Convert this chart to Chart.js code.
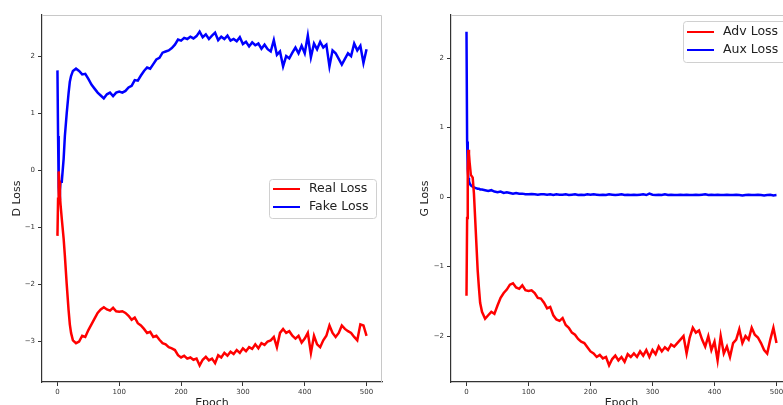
<!DOCTYPE html>
<html>
<head>
<meta charset="utf-8">
<script src="https://cdn.jsdelivr.net/npm/chart.js@4/dist/chart.umd.min.js"></script>
<style>
    html, body { margin: 0; padding: 0; background: #fff; }
    body { width: 783px; height: 405px; overflow: hidden; position: relative; }
    #d-wrap { position: absolute; left: 0; top: 0; width: 390px; height: 420px; }
    #g-wrap { position: absolute; left: 390px; top: 0; width: 410px; height: 420px; }
</style>
</head>
<body>
<div id="d-wrap"><canvas id="d-loss"></canvas></div>
<div id="g-wrap"><canvas id="g-loss"></canvas></div>
<script>
// epochs shared by all four curves (denser at the start where things move fast)
const epochs = [0, 1, 2, 3, 4, 5, 7, 10, 12, 15, 18, 20, 22, 25,
    30, 35, 40, 45, 50, 55, 60, 65, 70, 75, 80, 85, 90, 95, 100,
    105, 110, 115, 120, 125, 130, 135, 140, 145, 150, 155, 160, 165, 170, 175, 180, 185, 190, 195, 200,
    205, 210, 215, 220, 225, 230, 235, 240, 245, 250, 255, 260, 265, 270, 275, 280, 285, 290, 295, 300,
    305, 310, 315, 320, 325, 330, 335, 340, 345, 350, 355, 360, 365, 370, 375, 380, 385, 390, 395, 400,
    405, 410, 415, 420, 425, 430, 435, 440, 445, 450, 455, 460, 465, 470, 475, 480, 485, 490, 495, 500];

const realLoss = [-1.15, -0.5, -0.02, -0.2, -0.45, -0.6, -0.85, -1.2, -1.5, -2.0, -2.45, -2.7, -2.85, -2.98,
    -3.03, -3.0, -2.9, -2.92, -2.8, -2.7, -2.6, -2.5, -2.44, -2.4, -2.44, -2.46, -2.41, -2.47, -2.48,
    -2.47, -2.5, -2.55, -2.62, -2.58, -2.68, -2.72, -2.78, -2.85, -2.83, -2.92, -2.9, -2.97, -3.03, -3.05, -3.1, -3.12, -3.15, -3.24, -3.28,
    -3.25, -3.3, -3.28, -3.32, -3.3, -3.42, -3.32, -3.27, -3.33, -3.3, -3.38, -3.24, -3.28, -3.2, -3.25, -3.18, -3.22, -3.15, -3.2, -3.12,
    -3.17, -3.1, -3.13, -3.05, -3.12, -3.03, -3.06, -3.0, -2.98, -2.92, -3.1, -2.85, -2.78, -2.85, -2.82, -2.9, -2.95, -2.9, -3.02, -2.95,
    -2.85, -3.2, -2.9, -3.05, -3.1, -2.98, -2.9, -2.72, -2.85, -2.92, -2.85, -2.72, -2.78, -2.82, -2.85, -2.92, -2.98, -2.7, -2.72, -2.9];

const fakeLoss = [1.75, 0.6, -0.3, -0.5, -0.35, -0.2, -0.2, 0.2, 0.6, 1.0, 1.35, 1.55, 1.65, 1.74,
    1.78, 1.74, 1.68, 1.69, 1.6, 1.5, 1.43, 1.36, 1.31, 1.26, 1.33, 1.36, 1.3, 1.36, 1.38,
    1.36, 1.39, 1.45, 1.48, 1.58, 1.57, 1.66, 1.74, 1.8, 1.78, 1.86, 1.94, 1.97, 2.06, 2.08, 2.1, 2.14, 2.2, 2.29, 2.27,
    2.32, 2.3, 2.34, 2.31, 2.35, 2.43, 2.33, 2.38, 2.3, 2.36, 2.41, 2.28, 2.34, 2.3, 2.36, 2.27, 2.3, 2.26, 2.33, 2.21,
    2.25, 2.17, 2.24, 2.19, 2.22, 2.13, 2.2, 2.12, 2.08, 2.28, 2.02, 2.08, 1.82, 2.0, 1.96, 2.06, 2.15, 2.05, 2.18, 2.05,
    2.36, 1.98, 2.22, 2.12, 2.25, 2.15, 2.2, 1.82, 2.1, 2.05, 1.95, 1.85, 1.95, 2.05, 2.0, 2.22, 2.1, 2.18, 1.88, 2.12];

const advLoss = [-1.42, -0.3, 0.4, 0.68, 0.62, 0.5, 0.32, 0.28, 0.05, -0.5, -1.05, -1.3, -1.52, -1.65,
    -1.75, -1.7, -1.65, -1.68, -1.56, -1.45, -1.38, -1.33, -1.26, -1.24, -1.3, -1.32, -1.27, -1.34, -1.35,
    -1.34, -1.38, -1.45, -1.46, -1.52, -1.6, -1.58, -1.7, -1.76, -1.78, -1.74, -1.84, -1.88, -1.95, -1.98, -2.04, -2.08, -2.1, -2.16, -2.22,
    -2.25, -2.3, -2.27, -2.32, -2.3, -2.42, -2.33, -2.28, -2.35, -2.3, -2.37, -2.26, -2.3, -2.25, -2.3, -2.22, -2.28, -2.2, -2.3, -2.2,
    -2.26, -2.15, -2.22, -2.16, -2.2, -2.12, -2.15, -2.1, -2.05, -2.0, -2.25, -2.02, -1.88, -1.95, -1.92, -2.05, -2.15, -2.0, -2.2, -2.08,
    -2.35, -2.0, -2.25, -2.15, -2.3, -2.1, -2.05, -1.9, -2.1, -2.0, -2.05, -1.88, -1.98, -2.02, -2.1, -2.2, -2.25, -2.05, -1.88, -2.1];

const auxLoss = [2.38, 0.8, 0.4, 0.28, 0.23, 0.2, 0.17, 0.15, 0.14, 0.13, 0.12, 0.12, 0.11, 0.11,
    0.1, 0.09, 0.1, 0.08, 0.07, 0.08, 0.06, 0.07, 0.06, 0.05, 0.06, 0.05, 0.05, 0.04, 0.04,
    0.045, 0.04, 0.035, 0.04, 0.04, 0.035, 0.04, 0.03, 0.04, 0.035, 0.035, 0.04, 0.03, 0.035, 0.04, 0.03, 0.035, 0.03, 0.04, 0.035,
    0.04, 0.035, 0.03, 0.035, 0.03, 0.04, 0.035, 0.03, 0.035, 0.04, 0.03, 0.035, 0.03, 0.035, 0.03, 0.035, 0.04, 0.03, 0.05, 0.035,
    0.03, 0.035, 0.03, 0.04, 0.03, 0.035, 0.03, 0.03, 0.035, 0.03, 0.035, 0.03, 0.03, 0.035, 0.03, 0.035, 0.04, 0.03, 0.035, 0.03,
    0.035, 0.03, 0.03, 0.035, 0.03, 0.03, 0.035, 0.03, 0.025, 0.03, 0.035, 0.03, 0.03, 0.035, 0.03, 0.025, 0.03, 0.035, 0.025, 0.03];

const xTicks = [0, 100, 200, 300, 400, 500];
const dTicks = [-3, -2, -1, 0, 1, 2];
const gTicks = [-2, -1, 0, 1, 2];

const font = "'DejaVu Sans', sans-serif";

function points(ys) {
    return epochs.map((e, i) => ({ x: e, y: ys[i] }));
}

function fmt(v) {
    return v < 0 ? "\u2212" + Math.abs(v) : String(v);
}

// matplotlib-like frame: light top/right spines, legend box inside the axes
const framePlugin = {
    id: "frame",
    beforeDatasetsDraw(chart) {
        const { ctx, chartArea: a } = chart;
        ctx.save();
        ctx.strokeStyle = "#c8c8c8";
        ctx.lineWidth = 1;
        ctx.beginPath();
        ctx.moveTo(a.left, a.top + 0.5);
        ctx.lineTo(a.right - 0.5, a.top + 0.5);
        ctx.lineTo(a.right - 0.5, a.bottom);
        ctx.stroke();
        ctx.restore();
    },
    afterDraw(chart, args, opts) {
        const { ctx } = chart;
        const x = opts.x, y = opts.y;
        ctx.save();
        ctx.fillStyle = "rgba(255,255,255,0.85)";
        ctx.strokeStyle = "#d0d0d0";
        ctx.lineWidth = 1;
        ctx.beginPath();
        ctx.roundRect(x + 0.5, y + 0.5, opts.w, opts.h, 3);
        ctx.fill();
        ctx.stroke();
        ctx.font = "12.5px " + font;
        ctx.textBaseline = "middle";
        chart.data.datasets.forEach((ds, i) => {
            const ry = y + opts.row0 + i * 18;
            ctx.strokeStyle = ds.borderColor;
            ctx.lineWidth = 2;
            ctx.beginPath();
            ctx.moveTo(x + 4, ry);
            ctx.lineTo(x + 31, ry);
            ctx.stroke();
            ctx.fillStyle = "#222";
            ctx.fillText(ds.label, x + 40, ry);
        });
        ctx.restore();
    }
};

function makeChart(id, yLabel, series, yMin, yMax, yTicks, padLeft, yWidth, legend) {
    return new Chart(document.getElementById(id), {
        type: "line",
        data: {
            datasets: series.map(s => ({
                label: s.label,
                data: points(s.values),
                borderColor: s.color,
                borderWidth: 2.5,
                pointRadius: 0,
                tension: 0,
                fill: false
            }))
        },
        options: {
            responsive: true,
            maintainAspectRatio: false,
            animation: false,
            events: [],
            layout: { padding: { left: padLeft, top: 15, right: 8, bottom: 0 } },
            plugins: { legend: { display: false }, tooltip: { enabled: false }, frame: legend },
            scales: {
                x: {
                    type: "linear",
                    min: -25,
                    max: 525,
                    afterBuildTicks: s => { s.ticks = xTicks.map(v => ({ value: v })); },
                    afterFit: s => { s.height = 38; },
                    grid: { display: true, drawOnChartArea: false, drawTicks: true, tickLength: 4, color: "#333" },
                    border: { display: true, color: "#333", width: 1.2 },
                    ticks: { font: { family: font, size: 7 }, color: "#333", padding: 2, maxRotation: 0 },
                    title: { display: true, text: "Epoch", font: { family: font, size: 11 }, color: "#222", padding: { top: 0, bottom: 10 } }
                },
                y: {
                    type: "linear",
                    min: yMin,
                    max: yMax,
                    afterBuildTicks: s => { s.ticks = yTicks.map(v => ({ value: v })); },
                    afterFit: s => { s.width = yWidth; },
                    grid: { display: true, drawOnChartArea: false, drawTicks: true, tickLength: 4, color: "#333" },
                    border: { display: true, color: "#333", width: 1.2 },
                    ticks: { font: { family: font, size: 7 }, color: "#333", padding: 3, callback: v => fmt(v) },
                    title: { display: true, text: yLabel, font: { family: font, size: 11 }, color: "#222", padding: { top: 11, bottom: 0 } }
                }
            }
        },
        plugins: [framePlugin]
    });
}

makeChart("d-loss", "D Loss", [
    { label: "Real Loss", values: realLoss, color: "#ff0000" },
    { label: "Fake Loss", values: fakeLoss, color: "#0000ff" }
], -3.71, 2.72, dTicks, 0, 42, { x: 269, y: 179, w: 107, h: 39, row0: 10 });

makeChart("g-loss", "G Loss", [
    { label: "Adv Loss", values: advLoss, color: "#ff0000" },
    { label: "Aux Loss", values: auxLoss, color: "#0000ff" }
], -2.66, 2.62, gTicks, 18, 43, { x: 293, y: 21, w: 130, h: 41, row0: 11 });
</script>
</body>
</html>
